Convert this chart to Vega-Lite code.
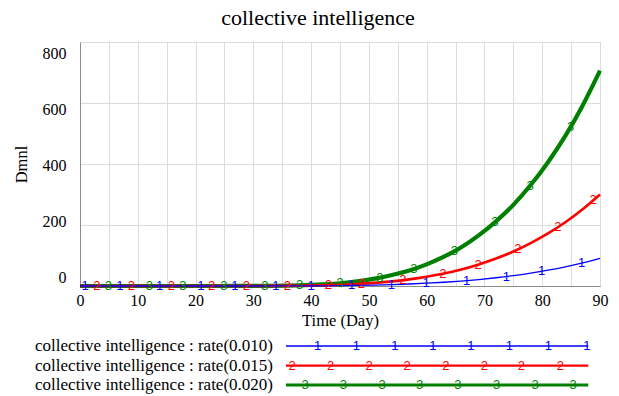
{
  "$schema": "https://vega.github.io/schema/vega-lite/v6.json",
  "width": 520,
  "height": 244,
  "autosize": {"type": "none"},
  "padding": {"left": 80, "top": 42, "right": 19, "bottom": 110},
  "background": "white",
  "title": {"text": "collective intelligence", "font": "Liberation Serif", "fontSize": 22, "fontWeight": "normal", "color": "#000000", "offset": 12, "dx": -22},
  "config": {
    "view": {"stroke": "#9a9a9a", "strokeWidth": 1},
    "axis": {"labelFont": "Liberation Serif", "labelFontSize": 16, "labelColor": "#000000", "titleFont": "Liberation Serif", "titleFontSize": 16.5, "titleFontWeight": "normal", "titleColor": "#000000", "gridColor": "#dcdcdc", "domainColor": "#8c8c8c", "ticks": false}
  },
  "datasets": {
    "curves": [
      {"s":"3","t":0,"v":0},{"s":"3","t":3,"v":0},{"s":"3","t":6,"v":0},{"s":"3","t":9,"v":0},{"s":"3","t":12,"v":0},{"s":"3","t":15,"v":0},{"s":"3","t":18,"v":0},{"s":"3","t":21,"v":0},{"s":"3","t":24,"v":0},{"s":"3","t":27,"v":0.1},{"s":"3","t":30,"v":0.3},{"s":"3","t":33,"v":0.7},{"s":"3","t":36,"v":1.5},{"s":"3","t":39,"v":3},{"s":"3","t":42,"v":5.5},{"s":"3","t":45,"v":9},{"s":"3","t":48,"v":15},{"s":"3","t":51,"v":24},{"s":"3","t":54,"v":36},{"s":"3","t":57,"v":51},{"s":"3","t":60,"v":71},{"s":"3","t":63,"v":96},{"s":"3","t":66,"v":127},{"s":"3","t":69,"v":166},{"s":"3","t":72,"v":212},{"s":"3","t":75,"v":266},{"s":"3","t":78,"v":331},{"s":"3","t":81,"v":406},{"s":"3","t":84,"v":492},{"s":"3","t":87,"v":592},{"s":"3","t":90,"v":706},
      {"s":"2","t":0,"v":0},{"s":"2","t":3,"v":0},{"s":"2","t":6,"v":0},{"s":"2","t":9,"v":0},{"s":"2","t":12,"v":0},{"s":"2","t":15,"v":0},{"s":"2","t":18,"v":0},{"s":"2","t":21,"v":0},{"s":"2","t":24,"v":0},{"s":"2","t":27,"v":0.04},{"s":"2","t":30,"v":0.13},{"s":"2","t":33,"v":0.3},{"s":"2","t":36,"v":0.64},{"s":"2","t":39,"v":1.3},{"s":"2","t":42,"v":2.3},{"s":"2","t":45,"v":3.8},{"s":"2","t":48,"v":6.4},{"s":"2","t":51,"v":10.2},{"s":"2","t":54,"v":15.3},{"s":"2","t":57,"v":21.7},{"s":"2","t":60,"v":30.2},{"s":"2","t":63,"v":40.8},{"s":"2","t":66,"v":54},{"s":"2","t":69,"v":70.6},{"s":"2","t":72,"v":90.1},{"s":"2","t":75,"v":113},{"s":"2","t":78,"v":140.7},{"s":"2","t":81,"v":172.6},{"s":"2","t":84,"v":209},{"s":"2","t":87,"v":251.6},{"s":"2","t":90,"v":300},
      {"s":"1","t":0,"v":0},{"s":"1","t":3,"v":0},{"s":"1","t":6,"v":0},{"s":"1","t":9,"v":0},{"s":"1","t":12,"v":0},{"s":"1","t":15,"v":0},{"s":"1","t":18,"v":0},{"s":"1","t":21,"v":0},{"s":"1","t":24,"v":0},{"s":"1","t":27,"v":0.01},{"s":"1","t":30,"v":0.04},{"s":"1","t":33,"v":0.09},{"s":"1","t":36,"v":0.19},{"s":"1","t":39,"v":0.38},{"s":"1","t":42,"v":0.7},{"s":"1","t":45,"v":1.2},{"s":"1","t":48,"v":1.9},{"s":"1","t":51,"v":3.1},{"s":"1","t":54,"v":4.6},{"s":"1","t":57,"v":6.5},{"s":"1","t":60,"v":9.1},{"s":"1","t":63,"v":12.3},{"s":"1","t":66,"v":16.3},{"s":"1","t":69,"v":21.2},{"s":"1","t":72,"v":27.1},{"s":"1","t":75,"v":34},{"s":"1","t":78,"v":42.4},{"s":"1","t":81,"v":52},{"s":"1","t":84,"v":63},{"s":"1","t":87,"v":75.8},{"s":"1","t":90,"v":90.4}
    ],
    "markers": [
      {"s":"1","t":0.9,"v":0},{"s":"1","t":6.9,"v":0},{"s":"1","t":13.8,"v":0},{"s":"1","t":20.9,"v":0},{"s":"1","t":26.8,"v":0},{"s":"1","t":33.9,"v":0.1},{"s":"1","t":40,"v":0.6},{"s":"1","t":47,"v":1.7},{"s":"1","t":53.9,"v":4.6},{"s":"1","t":59.9,"v":9},{"s":"1","t":66.9,"v":17.7},{"s":"1","t":73.8,"v":31},{"s":"1","t":79.9,"v":48},{"s":"1","t":86.8,"v":75},
      {"s":"2","t":2.9,"v":0},{"s":"2","t":8.9,"v":0},{"s":"2","t":15.8,"v":0},{"s":"2","t":22.8,"v":0},{"s":"2","t":28.8,"v":0.1},{"s":"2","t":35.9,"v":0.7},{"s":"2","t":43,"v":3},{"s":"2","t":48.7,"v":7.2},{"s":"2","t":55.9,"v":19},{"s":"2","t":62.8,"v":40},{"s":"2","t":68.9,"v":70},{"s":"2","t":75.8,"v":120},{"s":"2","t":82.7,"v":193},{"s":"2","t":88.8,"v":281},
      {"s":"3","t":4.9,"v":0},{"s":"3","t":12,"v":0},{"s":"3","t":17.8,"v":0},{"s":"3","t":24.9,"v":0},{"s":"3","t":32,"v":0.6},{"s":"3","t":38,"v":2.8},{"s":"3","t":45,"v":9},{"s":"3","t":51.9,"v":27},{"s":"3","t":57.8,"v":55},{"s":"3","t":64.8,"v":114},{"s":"3","t":71.8,"v":209},{"s":"3","t":77.9,"v":329},{"s":"3","t":84.9,"v":522}
    ],
    "legend": [
      {"s":"1","row":1,"label":"collective intelligence : rate(0.010)"},
      {"s":"2","row":2,"label":"collective intelligence : rate(0.015)"},
      {"s":"3","row":3,"label":"collective intelligence : rate(0.020)"}
    ],
    "legendMarks": [
      {"s":"1","row":1,"p":0.105},{"s":"1","row":1,"p":0.233},{"s":"1","row":1,"p":0.36},{"s":"1","row":1,"p":0.486},{"s":"1","row":1,"p":0.612},{"s":"1","row":1,"p":0.739},{"s":"1","row":1,"p":0.868},{"s":"1","row":1,"p":0.995},
      {"s":"2","row":2,"p":0.02},{"s":"2","row":2,"p":0.148},{"s":"2","row":2,"p":0.275},{"s":"2","row":2,"p":0.401},{"s":"2","row":2,"p":0.529},{"s":"2","row":2,"p":0.656},{"s":"2","row":2,"p":0.779},{"s":"2","row":2,"p":0.908},
      {"s":"3","row":3,"p":0.063},{"s":"3","row":3,"p":0.19},{"s":"3","row":3,"p":0.318},{"s":"3","row":3,"p":0.442},{"s":"3","row":3,"p":0.569},{"s":"3","row":3,"p":0.697},{"s":"3","row":3,"p":0.824},{"s":"3","row":3,"p":0.95}
    ]
  },
  "resolve": {"scale": {"x": "independent", "y": "independent"}, "axis": {"x": "independent", "y": "independent"}},
  "layer": [
    {
      "encoding": {
        "x": {"field": "t", "type": "quantitative", "scale": {"domain": [0, 90], "nice": false, "zero": false},
              "axis": {"values": [0,5,10,15,20,25,30,35,40,45,50,55,60,65,70,75,80,85,90], "labelExpr": "datum.value % 10 === 0 ? datum.label : ''", "title": "Time (Day)", "labelFont": "Liberation Serif", "labelFontSize": 16, "titleFont": "Liberation Serif", "labelPadding": 6, "titlePadding": 4, "labelFlush": false}},
        "y": {"field": "v", "type": "quantitative", "scale": {"domain": [0, 800], "nice": false},
              "axis": {"values": [0,200,400,600,800], "title": "Dmnl", "labelFont": "Liberation Serif", "labelFontSize": 16, "titleFont": "Liberation Serif", "labelPadding": 14, "titlePadding": 13, "labelFlush": false, "labelOffset": {"expr": "(datum.value - 400) / 40 + 1"}}},
        "color": {"field": "s", "type": "nominal", "scale": {"domain": ["1","2","3"], "range": ["#0000ff","#ff0000","#008000"]}, "legend": null}
      },
      "layer": [
        {"data": {"name": "curves"}, "transform": [{"filter": "datum.s === '3'"}], "mark": {"type": "line", "interpolate": "monotone", "strokeWidth": 4.2}},
        {"data": {"name": "curves"}, "transform": [{"filter": "datum.s === '2'"}], "mark": {"type": "line", "interpolate": "monotone", "strokeWidth": 2.6}},
        {"data": {"name": "curves"}, "transform": [{"filter": "datum.s === '1'"}], "mark": {"type": "line", "interpolate": "monotone", "strokeWidth": 1.3}},
        {"data": {"name": "markers"}, "mark": {"type": "text", "font": "Liberation Sans", "fontSize": 13, "baseline": "middle", "align": "center"}, "encoding": {"text": {"field": "s"}}}
      ]
    },
    {
      "encoding": {
        "y": {"field": "row", "type": "quantitative", "scale": {"domain": [-14.59, -2.077], "reverse": true, "nice": false, "zero": false}, "axis": null},
        "color": {"field": "s", "type": "nominal", "scale": {"domain": ["1","2","3"], "range": ["#0000ff","#ff0000","#008000"]}, "legend": null}
      },
      "layer": [
        {"data": {"name": "legend"}, "mark": {"type": "rule"},
         "encoding": {"x": {"datum": 0, "type": "quantitative", "scale": {"domain": [-0.6814, 1.0388], "nice": false, "zero": false}, "axis": null}, "x2": {"datum": 1},
                      "strokeWidth": {"field": "s", "type": "ordinal", "scale": {"domain": ["1","2","3"], "range": [1.3, 3.2, 4.2]}, "legend": null}}},
        {"data": {"name": "legendMarks"}, "mark": {"type": "text", "font": "Liberation Sans", "fontSize": 13, "baseline": "middle", "align": "center"},
         "encoding": {"x": {"field": "p", "type": "quantitative", "scale": {"domain": [-0.6814, 1.0388], "nice": false, "zero": false}, "axis": null}, "text": {"field": "s"}}},
        {"data": {"name": "legend"}, "mark": {"type": "text", "font": "Liberation Serif", "fontSize": 17, "baseline": "middle", "align": "right", "dx": -13, "color": "#000000"},
         "encoding": {"x": {"datum": 0, "type": "quantitative", "scale": {"domain": [-0.6814, 1.0388], "nice": false, "zero": false}, "axis": null}, "text": {"field": "label"}, "color": {"value": "#000000"}}}
      ]
    }
  ]
}
